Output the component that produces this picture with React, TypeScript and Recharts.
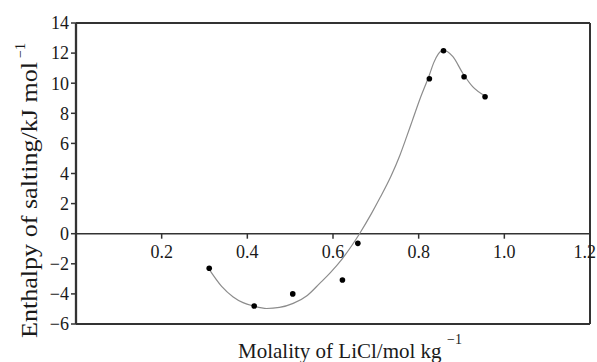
import React from 'react';
import { ComposedChart, Line, Scatter, XAxis, YAxis, ReferenceLine } from 'recharts';

// Measured data points (molality, enthalpy)
const pointX = [0.311, 0.416, 0.506, 0.622, 0.658, 0.825, 0.858, 0.906, 0.955];
const pointY = [-2.3, -4.8, -4.0, -3.08, -0.64, 10.3, 12.16, 10.43, 9.1];

// Fitted curve
const curveX = [0.311, 0.34, 0.367, 0.39, 0.414, 0.445, 0.475, 0.507, 0.54, 0.569, 0.595, 0.622, 0.646, 0.663, 0.69, 0.71, 0.735, 0.756, 0.772, 0.785, 0.803, 0.825, 0.835, 0.846, 0.857, 0.88, 0.903, 0.926, 0.955];
const curveY = [-2.37, -3.5, -4.2, -4.58, -4.8, -4.97, -4.9, -4.63, -4.1, -3.3, -2.55, -1.65, -0.7, 0.05, 1.35, 2.4, 3.8, 5.2, 6.45, 7.5, 8.95, 10.55, 11.35, 11.95, 12.2, 11.76, 10.66, 9.77, 9.15];

const xTicks = [0.2, 0.4, 0.6, 0.8, 1.0, 1.2];
const yTicks = [-6, -4, -2, 0, 2, 4, 6, 8, 10, 12, 14];
const X_MIN = 0, X_MAX = 1.2, Y_MIN = -6, Y_MAX = 14;

const xLabel = 'Molality of LiCl/mol kg';
const yLabel = 'Enthalpy of salting/kJ mol';
const unitSup = '\u22121';

const W = 597, H = 362;
const X_AXIS_H = 38;
const MARGIN = { top: 23, right: 7, bottom: 0, left: 0 };
const PLOT_H = H - MARGIN.top - MARGIN.bottom - X_AXIS_H;
const ZERO_SHIFT = (PLOT_H * (0 - Y_MIN)) / (Y_MAX - Y_MIN);

const FONT = '"Liberation Serif", "Times New Roman", Times, serif';
const AXIS = '#333';
const TEXT = '#1a1a1a';
const TICK_FS = 18;

const curveData = curveX.map((x, i) => ({ x, y: curveY[i] }));
const pointData = pointX.map((x, i) => ({ x, y: pointY[i] }));

const fmtY = (v: number) => (v < 0 ? '\u2212' + Math.abs(v) : String(v));

const XTick = (props: any) => {
  const { x, y, payload } = props;
  const zy = y - ZERO_SHIFT;
  const halfW = TICK_FS * 0.63;
  const tx = Math.min(x, W - halfW - 1);
  return (
    <g>
      <line x1={x} x2={x} y1={zy} y2={zy + 5} stroke={AXIS} strokeWidth={1.5} />
      <text x={tx} y={zy + 24} textAnchor="middle" fontFamily={FONT} fontSize={TICK_FS} fill={TEXT}>
        {Number(payload.value).toFixed(1)}
      </text>
    </g>
  );
};

const YLabel = () => (
  <g>
    <text
      x={37}
      y={338}
      transform="rotate(-90, 37, 338)"
      fontFamily={FONT}
      fontSize={24}
      fill={TEXT}
      textLength={276}
      lengthAdjust="spacingAndGlyphs"
    >
      {yLabel}
    </text>
    <text x={25} y={58} transform="rotate(-90, 25, 58)" fontFamily={FONT} fontSize={14} fill={TEXT}>
      {unitSup}
    </text>
  </g>
);

const XLabel = () => (
  <g>
    <text x={238} y={358} fontFamily={FONT} fontSize={21} fill={TEXT}>
      {xLabel}
    </text>
    <text x={447} y={344} fontFamily={FONT} fontSize={14} fill={TEXT}>
      {unitSup}
    </text>
  </g>
);

const Dot = (p: any) => <circle cx={p.cx} cy={p.cy} r={2.8} fill="#000" />;

export default function App() {
  return (
    <div style={{ position: 'absolute', left: 0, top: 0, width: W, height: H, background: '#fff' }}>
      <ComposedChart width={W} height={H} margin={MARGIN}>
        <XAxis
          type="number"
          dataKey="x"
          domain={[X_MIN, X_MAX]}
          ticks={xTicks}
          allowDataOverflow
          height={X_AXIS_H}
          tickSize={0}
          tickMargin={0}
          tickLine={false}
          axisLine={{ stroke: AXIS, strokeWidth: 2 }}
          tick={<XTick />}
          interval={0}
          label={<XLabel />}
        />
        <YAxis
          type="number"
          dataKey="y"
          domain={[Y_MIN, Y_MAX]}
          ticks={yTicks}
          allowDataOverflow
          width={76}
          tickSize={5}
          tickMargin={2}
          tickLine={{ stroke: AXIS, strokeWidth: 1.5 }}
          axisLine={{ stroke: AXIS, strokeWidth: 2.3 }}
          tick={{ fontFamily: FONT, fontSize: TICK_FS, fill: TEXT }}
          tickFormatter={fmtY}
          interval={0}
          label={<YLabel />}
        />
        <ReferenceLine y={0} stroke={AXIS} strokeWidth={1.5} ifOverflow="visible" />
        <ReferenceLine y={Y_MAX} stroke={AXIS} strokeWidth={2} ifOverflow="visible" />
        <ReferenceLine x={X_MAX} stroke={AXIS} strokeWidth={2} ifOverflow="visible" />
        <Line
          data={curveData}
          dataKey="y"
          type="monotone"
          stroke="#8c8c8c"
          strokeWidth={1.2}
          dot={false}
          activeDot={false}
          isAnimationActive={false}
        />
        <Scatter data={pointData} dataKey="y" shape={<Dot />} isAnimationActive={false} />
      </ComposedChart>
    </div>
  );
}
